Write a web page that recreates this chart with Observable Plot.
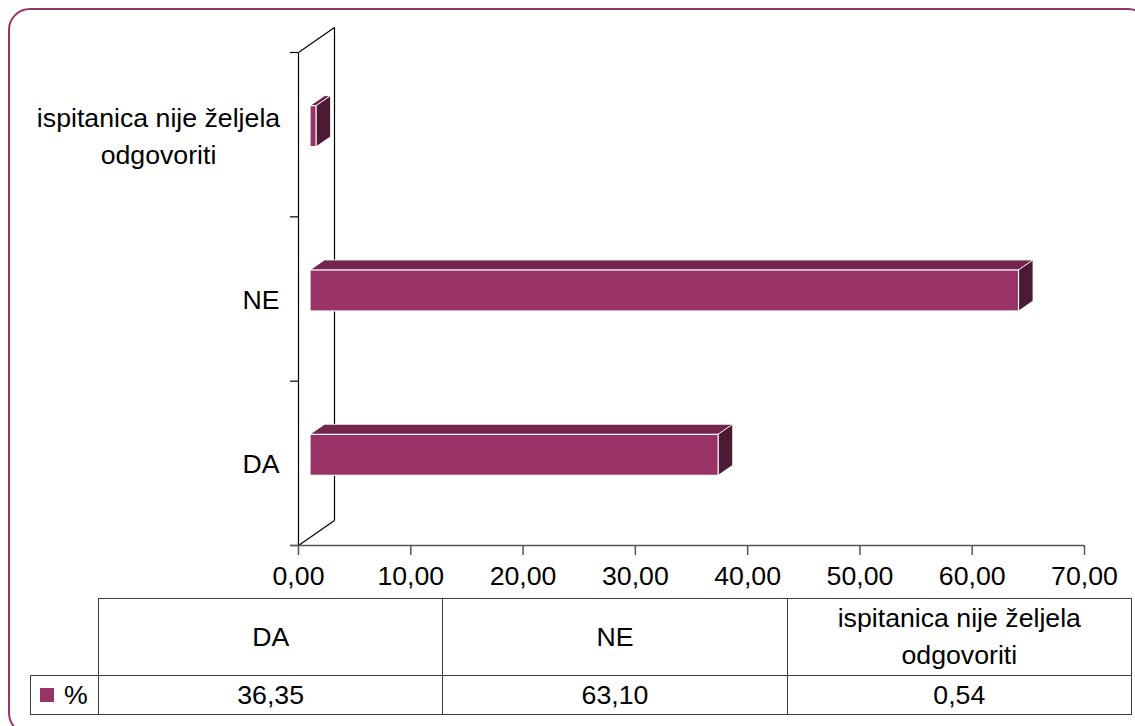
<!DOCTYPE html>
<html><head><meta charset="utf-8">
<script src="https://cdn.jsdelivr.net/npm/d3@7"></script>
<script src="https://cdn.jsdelivr.net/npm/@observablehq/plot@0.6"></script>
<style>
html,body{margin:0;padding:0;background:#fff;width:1135px;height:726px;overflow:hidden;font-family:"Liberation Sans",Arial,sans-serif;}
#frame{position:absolute;left:8px;top:8px;width:1142px;height:727px;border:2.6px solid #993366;border-radius:22px;box-sizing:border-box;}
#chart{position:absolute;left:0;top:0;}
.cell{position:absolute;box-sizing:border-box;display:flex;align-items:center;justify-content:center;text-align:center;font-size:26.7px;line-height:37px;color:#000;white-space:pre-line;border:1.6px solid #3c3c3c;}
</style></head><body>
<div id="frame"></div>
<div id="chart"></div>
<div id="table"></div>
<script>
// ---- data ----
const categories = ["DA", "NE", "ispitanica nije željela odgovoriti"];
const labelLines = ["DA", "NE", "ispitanica nije željela\nodgovoriti"];
const values = [36.35, 63.10, 0.54];
const valueLabels = ["36,35", "63,10", "0,54"];
const xTicks = [0, 10, 20, 30, 40, 50, 60, 70];
const seriesName = "%";

// ---- layout ----
const W = 1135, H = 600;
const mL = 298, mR = 51, mT = 52, mB = 55;
const xMax = 70;
const FS = 26.7;
const kx = (W - mL - mR) / xMax;
const ky = (H - mT - mB) / categories.length;
const px = p => p / kx, py = p => p / ky;
const halfH = py(20.5);
const fdx = 12, fdy = -8;            // front plane of bars (px)
const bdx = px(14.5), bdy = py(10);  // bar depth (data units)
const wallDx = px(36), wallDy = py(25);
const nCat = categories.length;

const FRONT = "#993366", TOP = "#73264d", SIDE = "#4d1a33";

const bars = categories.map((c, i) => ({cat: c, label: labelLines[i], i, v: values[i], yc: i + 0.5}));
const topFace = bars.flatMap(b => [
  {cat: b.cat, y: b.yc + halfH, x1: 0, x2: b.v},
  {cat: b.cat, y: b.yc + halfH + bdy, x1: bdx, x2: b.v + bdx}
]);
const sideFace = bars.flatMap(b => [
  {cat: b.cat, x: b.v, y1: b.yc - halfH, y2: b.yc + halfH},
  {cat: b.cat, x: b.v + bdx, y1: b.yc - halfH + bdy, y2: b.yc + halfH + bdy}
]);
const wall = [
  {x1: 0, y1: 0, x2: 0, y2: nCat},
  {x1: 0, y1: 0, x2: wallDx, y2: wallDy},
  {x1: 0, y1: nCat, x2: wallDx, y2: nCat + wallDy},
  {x1: wallDx, y1: wallDy, x2: wallDx, y2: nCat + wallDy}
];
const fmt = d => d.toFixed(2).replace(".", ",");

const chart = Plot.plot({
  width: W, height: H,
  marginLeft: mL, marginRight: mR, marginTop: mT, marginBottom: mB,
  x: {domain: [0, xMax], axis: null},
  y: {domain: [0, nCat], axis: null},
  style: {fontFamily: '"Liberation Sans", Arial, sans-serif', fontSize: FS + "px", background: "transparent", overflow: "visible", color: "#000"},
  marks: [
    Plot.link(wall, {x1: "x1", y1: "y1", x2: "x2", y2: "y2", stroke: "#000", strokeWidth: 1.2}),
    Plot.ruleY(d3.range(nCat + 1), {x1: () => -px(8), x2: () => 0, stroke: "#000", strokeWidth: 1.2}),
    Plot.ruleY([0], {x1: () => -px(8), x2: () => xMax, stroke: "#555", strokeWidth: 1.5}),
    Plot.ruleX(xTicks, {y1: () => 0, y2: () => -py(10), stroke: "#555", strokeWidth: 1.5}),
    Plot.text(xTicks, {x: d => d, y: () => 0, dy: 31, text: fmt, fontSize: FS, fill: "#000"}),
    Plot.text(bars.filter(b => !b.label.includes("\n")), {x: () => 0, y: "yc", text: "label", textAnchor: "end", dx: -19, dy: 1, fontSize: FS, fill: "#000"}),
    Plot.text(bars.filter(b => b.label.includes("\n")), {x: () => 0, y: "yc", text: "label", textAnchor: "middle", dx: -140, dy: -1, lineHeight: 1.39, fontSize: FS, fill: "#000"}),
    Plot.areaX(topFace, {y: "y", x1: "x1", x2: "x2", z: "cat", fill: TOP, stroke: "white", strokeWidth: 0.8, dx: fdx, dy: fdy}),
    Plot.areaY(sideFace, {x: "x", y1: "y1", y2: "y2", z: "cat", fill: SIDE, stroke: "white", strokeWidth: 0.8, dx: fdx, dy: fdy}),
    Plot.rect(bars, {x1: () => 0, x2: "v", y1: d => d.yc - halfH, y2: d => d.yc + halfH, fill: FRONT, stroke: "white", strokeWidth: 1.2, dx: fdx, dy: fdy})
  ]
});
document.getElementById("chart").appendChild(chart);

// ---- data table ----
const table = document.getElementById("table");
const tLeft = 98, tRight = 1131, rowTop = 598, rowMid = 675, rowBot = 714, legLeft = 30;
const colW = (tRight - tLeft) / categories.length;
function cell(x, y, w, h, html) {
  const d = document.createElement("div");
  d.className = "cell";
  Object.assign(d.style, {left: x + "px", top: y + "px", width: (w + 1) + "px", height: (h + 1) + "px"});
  d.innerHTML = html;
  table.appendChild(d);
  return d;
}
labelLines.forEach((l, i) => {
  cell(tLeft + i * colW, rowTop, colW, rowMid - rowTop, l);
  cell(tLeft + i * colW, rowMid, colW, rowBot - rowMid, valueLabels[i]);
});
const lc = cell(legLeft, rowMid, tLeft - legLeft, rowBot - rowMid,
  `<span style="display:inline-block;width:14px;height:14px;background:${FRONT};margin-right:10px;"></span>${seriesName}`);
lc.style.justifyContent = "flex-start";
lc.style.paddingLeft = "9px";
</script>
</body></html>
